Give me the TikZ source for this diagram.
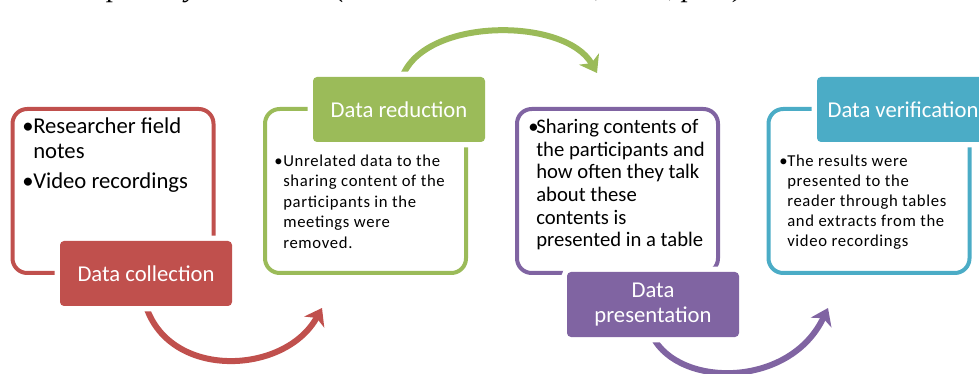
\documentclass[tikz,border=0pt]{standalone}
\usepackage{fontspec}
\setmainfont{Carlito}
\newfontfamily\capfont{Liberation Serif}
\usetikzlibrary{arrows.meta,backgrounds}
\definecolor{cred}{HTML}{C0504D}
\definecolor{cgreen}{HTML}{9BBB59}
\definecolor{cpurple}{HTML}{8064A2}
\definecolor{cblue}{HTML}{4BACC6}
\begin{document}
\begin{tikzpicture}[x=0.75pt,y=-0.75pt,
  frame/.style={draw=#1, line width=3pt, rounded corners=11pt, minimum width=150.75pt, minimum height=123pt, inner sep=0pt},
  steplabel/.style={fill=#1, rounded corners=3pt, minimum width=129pt, minimum height=48.75pt, inner sep=0pt, text=white, align=center, font=\fontsize{17}{18.75}\selectfont, preaction={draw=white, line width=8pt}},
  flow/.style={draw=#1, line width=4.5pt, -{Stealth[length=12pt,width=17pt,inset=3.5pt]}},
  txt/.style={anchor=base west, inner sep=0pt},
  bigtxt/.style={txt, font=\fontsize{17}{20}\selectfont},
  midtxt/.style={txt, font=\fontsize{15.5}{17}\selectfont},
  smalltxt/.style={txt, font=\fontsize{12.5}{15}\selectfont\addfontfeature{LetterSpace=4}}
]
\useasboundingbox (0,0) rectangle (979,374);
\clip (0,0) rectangle (979,374);

% caption (cut off at top)
\node[txt, font=\fontsize{22}{24}\selectfont\capfont\itshape] (cap) at (-3,-3) {Three Step Analysis Process (Miles and Huberman, 1994, p.12)};

% frames
\node[frame=cred] (fr) at (113,191) {};
\node[frame=cgreen] (fg) at (365.5,191) {};
\node[frame=cpurple] (fp) at (617.5,191) {};
\node[frame=cblue] (fb) at (869,191) {};

% labels
\node[steplabel=cred] (lr) at (146,273.5) {Data collection};
\node[steplabel=cgreen] (lg) at (399,109.5) {Data reduction};
\node[steplabel=cpurple] (lp) at (653,304.5) {Data\\presentation};
\node[steplabel=cblue] (lb) at (903,109.5) {Data verification};

% arrows (behind labels)
\begin{scope}[on background layer]
\coordinate (tr) at (322,308);
\coordinate (tg) at (597,73);
\coordinate (tp) at (828,308);
\draw[flow=cred] (lr.south) .. controls (170,380) and (285,375) .. (tr);
\draw[flow=cgreen] ([xshift=2.5pt]lg.north) .. controls (425,17) and (565,17) .. (tg);
\draw[flow=cpurple] (lp.south) .. controls (680,388) and (790,388) .. (tp);
\end{scope}

% red text
\node[bigtxt] (rb1) at (22,134) {•};
\node[bigtxt] (rt1) at (33,134) {Researcher field};
\node[bigtxt] (rt2) at (33,159) {notes};
\node[bigtxt] (rb2) at (22,189) {•};
\node[bigtxt] (rt3) at (33,189) {Video recordings};

% green text
\node[smalltxt] (gb1) at (274,167) {•};
\node[smalltxt] (gt1) at (283,167) {Unrelated data to the};
\node[smalltxt] (gt2) at (283,187) {sharing content of the};
\node[smalltxt] (gt3) at (283,208) {participants in the};
\node[smalltxt] (gt4) at (283,228) {meetings were};
\node[smalltxt] (gt5) at (283,248) {removed.};

% purple text
\node[midtxt] (pb1) at (528,134) {•};
\node[midtxt] (pt1) at (536,134) {Sharing contents of};
\node[midtxt] (pt2) at (536,157) {the participants and};
\node[midtxt] (pt3) at (536,179) {how often they talk};
\node[midtxt] (pt4) at (536,202) {about these};
\node[midtxt] (pt5) at (536,225) {contents is};
\node[midtxt] (pt6) at (536,247) {presented in a table};

% blue text
\node[smalltxt] (bb1) at (779,167) {•};
\node[smalltxt] (bt1) at (787,167) {The results were};
\node[smalltxt] (bt2) at (787,187) {presented to the};
\node[smalltxt] (bt3) at (787,207) {reader through tables};
\node[smalltxt] (bt4) at (787,227) {and extracts from the};
\node[smalltxt] (bt5) at (787,247) {video recordings};
\end{tikzpicture}
\end{document}
